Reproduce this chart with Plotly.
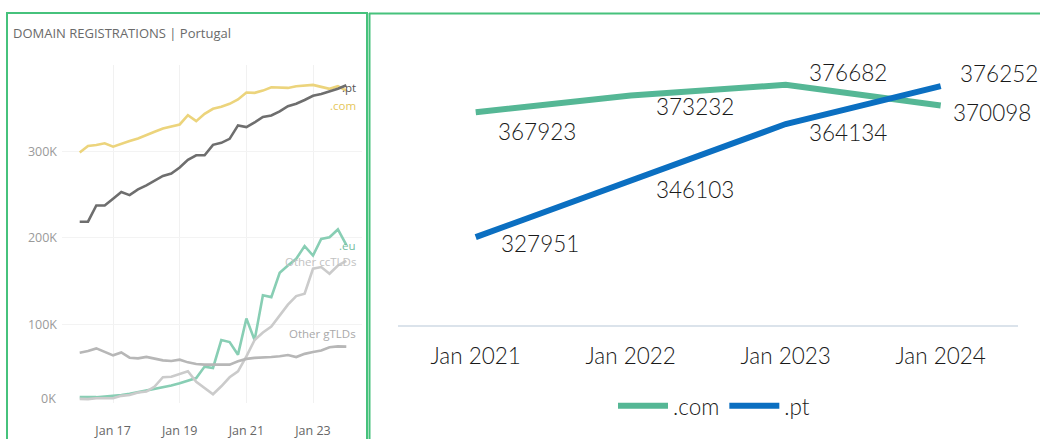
import plotly.graph_objects as go
import pandas as pd

W, H = 1040, 439

# ---------------- Left panel data (quarterly, thousands of domains) ----------------
quarters = pd.date_range("2016-01-01", "2024-01-01", freq="QS").strftime("%Y-%m-%d").tolist()
com_k = [298.5, 306.1, 307.2, 309.2, 305.4, 308.9, 311.8, 314.9, 318.4, 322.6, 326.4,
         329.1, 331.0, 341.7, 334.8, 343.3, 349.1, 351.4, 354.8, 359.8, 367.9, 367.5,
         370.1, 373.9, 373.2, 373.2, 375.1, 375.9, 376.7, 374.4, 372.1, 375.1, 370.1]
pt_k = [218.7, 218.7, 237.4, 237.4, 245.2, 252.9, 249.4, 256.0, 260.6, 266.3, 271.6,
        274.4, 281.3, 290.2, 295.4, 295.4, 307.5, 309.8, 314.4, 329.9, 328.0, 333.3,
        339.7, 341.4, 346.1, 352.1, 354.9, 359.2, 364.1, 366.3, 369.2, 372.2, 376.3]
eu_k = [16.1, 15.7, 16.1, 16.9, 17.6, 18.7, 19.9, 21.8, 23.3, 25.3, 27.2, 29.5, 32.2,
        35.3, 38.2, 51.4, 49.8, 82.0, 79.7, 65.2, 106.9, 82.0, 133.7, 131.6, 159.8,
        168.2, 175.9, 190.5, 179.7, 198.9, 200.8, 209.8, 192.0]
cc_k = [14.1, 13.8, 14.9, 14.9, 14.9, 17.6, 18.7, 21.5, 22.6, 28.4, 39.1, 39.7, 42.5,
        46.0, 33.9, 26.4, 19.5, 28.7, 39.1, 46.0, 63.2, 82.2, 90.8, 97.7, 110.3, 123.0,
        132.8, 135.6, 164.4, 166.3, 158.6, 168.2, 173.6]
g_k = [67.5, 69.3, 72.4, 68.4, 64.4, 67.8, 61.7, 60.9, 62.6, 60.6, 58.6, 57.8, 59.4,
       56.3, 54.4, 53.7, 53.7, 53.7, 53.7, 57.5, 60.3, 61.5, 61.8, 62.4, 63.4, 64.7,
       62.4, 66.1, 68.2, 70.1, 73.8, 74.7, 74.5]

left_names = [".com", ".pt", ".eu", "Other ccTLDs", "Other gTLDs"]
left_series = [com_k, pt_k, eu_k, cc_k, g_k]
left_colors = ["#ecd47c", "#6e6e6e", "#88ceb4", "#cbcbcb", "#b7b7b7"]
left_label_colors = ["#e5c65a", "#555555", "#73bca0", "#c2c2c2", "#a9a9a9"]
left_label_y_px = [106, 88, 247, 263, 335]

left_ticks = ["2017-01-01", "2019-01-01", "2021-01-01", "2023-01-01"]
left_ticktext = ["Jan 17", "Jan 19", "Jan 21", "Jan 23"]

# ---------------- Right panel data ----------------
years = ["2021-01-01", "2022-01-01", "2023-01-01", "2024-01-01"]
year_labels = ["Jan 2021", "Jan 2022", "Jan 2023", "Jan 2024"]
com_vals = [367923, 373232, 376682, 370098]
pt_vals = [327951, 346103, 364134, 376252]

# label offsets (style), px
com_off = [(20, 19), (23, 11), (21, -12), (10, 7)]
pt_off = [(23, 6), (23, 9), (21, 8), (17, -13)]


def px(x):
    return x / W


def py(y):
    return 1 - y / H


fig = go.Figure()

for name, vals, col in zip(left_names, left_series, left_colors):
    fig.add_trace(go.Scatter(
        x=quarters, y=[v * 1000 for v in vals], mode="lines", name=name,
        line=dict(color=col, width=2.6), showlegend=False, hoverinfo="skip",
        xaxis="x", yaxis="y"))

fig.add_trace(go.Scatter(
    x=years, y=com_vals, mode="lines", name=".com",
    line=dict(color="#55b795", width=6), xaxis="x2", yaxis="y2"))
fig.add_trace(go.Scatter(
    x=years, y=pt_vals, mode="lines", name=".pt",
    line=dict(color="#0b6fc1", width=6), xaxis="x2", yaxis="y2"))

RFONT = dict(family="Lato", size=22.5, color="#1a1a1a", weight=300)

annotations = []
for vals, offs in ((com_vals, com_off), (pt_vals, pt_off)):
    for xv, v, (dx, dy) in zip(years, vals, offs):
        annotations.append(dict(
            x=xv, y=v, xref="x2", yref="y2", text=str(v), showarrow=False,
            xanchor="left", yanchor="middle", xshift=dx, yshift=-dy, font=RFONT))

for name, col, ypx in zip(left_names, left_label_colors, left_label_y_px):
    annotations.append(dict(
        x=px(358), y=py(ypx), xref="paper", yref="paper", text=name, showarrow=False,
        xanchor="right", yanchor="middle",
        font=dict(family="Open Sans", size=11.5, color=col)))

annotations.append(dict(
    x=px(11), y=py(33), xref="paper", yref="paper",
    text="DOMAIN REGISTRATIONS | Portugal", showarrow=False,
    xanchor="left", yanchor="middle",
    font=dict(family="Open Sans", size=13, color="#6a6a6a")))
annotations.append(dict(
    x=px(58), y=py(400), xref="paper", yref="paper", text="0K", showarrow=False,
    xanchor="right", yanchor="middle",
    font=dict(family="Open Sans", size=12.5, color="#9a9a9a")))

GREEN = "#46c27c"
shapes = [
    dict(type="rect", xref="paper", yref="paper", x0=px(7), x1=px(367),
         y0=py(445), y1=py(13), line=dict(color=GREEN, width=2)),
    dict(type="line", xref="paper", yref="paper", x0=px(369.5), x1=px(369.5),
         y0=py(445), y1=py(13), line=dict(color=GREEN, width=2)),
    dict(type="line", xref="paper", yref="paper", x0=px(369), x1=px(1045),
         y0=py(13.5), y1=py(13.5), line=dict(color=GREEN, width=2)),
]

fig.update_layout(
    width=W, height=H,
    margin=dict(l=0, r=0, t=0, b=0),
    paper_bgcolor="white", plot_bgcolor="white",
    xaxis=dict(domain=[px(62), px(362)], type="date",
               range=["2015-06-21", "2024-06-21"],
               tickvals=left_ticks, ticktext=left_ticktext,
               showgrid=True, gridcolor="#f1f1f1", gridwidth=1,
               zeroline=False, showline=False, ticks="",
               tickfont=dict(family="Open Sans", size=12.5, color="#666666"),
               ticklabelstandoff=18, anchor="y"),
    yaxis=dict(domain=[py(405), py(65)], range=[9195, 400000],
               tickvals=[100000, 200000, 300000], ticktext=["100K", "200K", "300K"],
               showgrid=True, gridcolor="#f3f3f3", zeroline=False, showline=False,
               ticks="", tickfont=dict(family="Open Sans", size=12.5, color="#9a9a9a"),
               ticklabelstandoff=4, anchor="x"),
    xaxis2=dict(domain=[px(398), px(1018)], type="date",
                range=["2020-07-02", "2024-07-01"],
                tickvals=years, ticktext=year_labels,
                showgrid=False, zeroline=False, showline=True,
                linecolor="#dbe3eb", linewidth=2, ticks="",
                tickfont=RFONT, ticklabelstandoff=10, anchor="y2"),
    yaxis2=dict(domain=[py(326), py(43.4)], range=[300000, 390000],
                visible=False, anchor="x2"),
    legend=dict(orientation="h", x=px(714), xanchor="center",
                y=py(408), yanchor="middle", font=RFONT,
                itemwidth=50, bgcolor="rgba(0,0,0,0)"),
    annotations=annotations,
    shapes=shapes,
    hovermode=False,
)

fig.write_html(
    "out.html",
    config={"displayModeBar": False},
    post_script="document.body.style.margin='0';document.body.style.overflow='hidden';",
)
